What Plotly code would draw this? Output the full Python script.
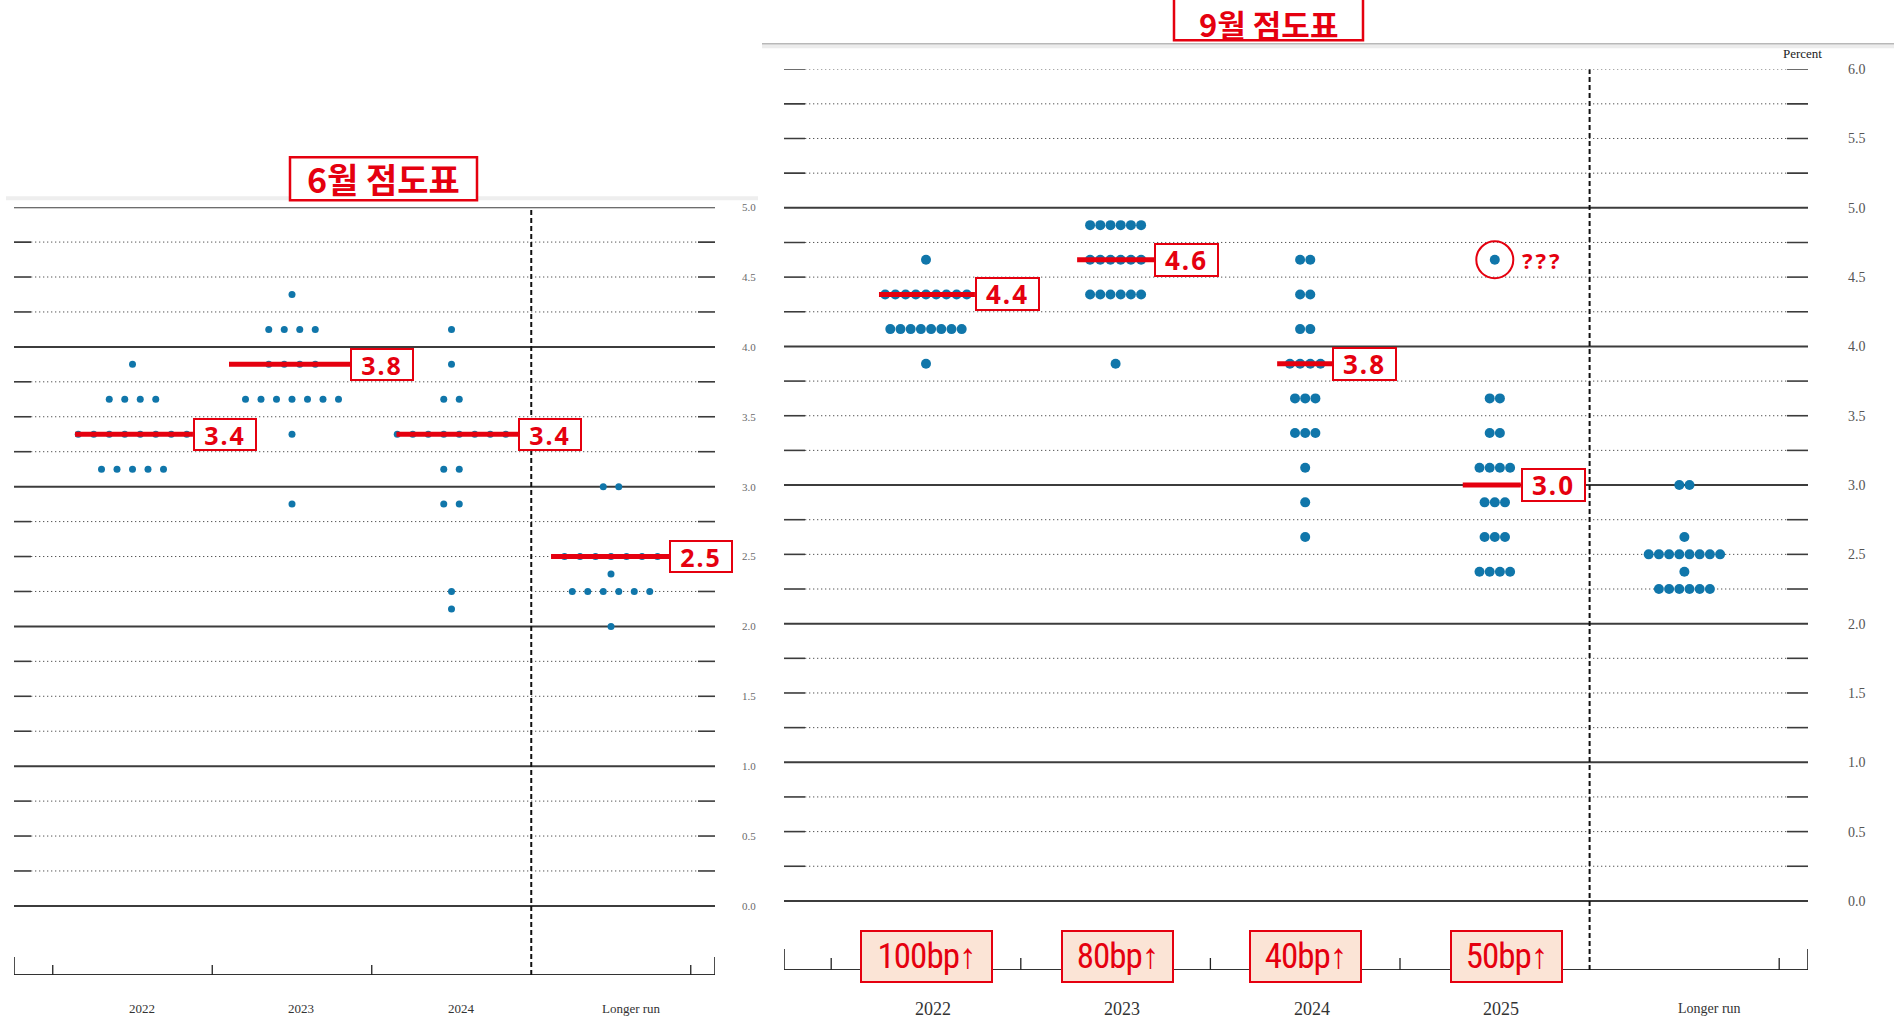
import plotly.graph_objects as go

W, H = 1894, 1026

# ---------------- data ----------------
june_categories = ["2022", "2023", "2024", "Longer run"]
june_2022_levels = [3.875, 3.625, 3.375, 3.125]
june_2022_counts = [1, 4, 8, 5]
june_2023_levels = [4.375, 4.125, 3.875, 3.625, 3.375, 2.875]
june_2023_counts = [1, 4, 4, 7, 1, 1]
june_2024_levels = [4.125, 3.875, 3.625, 3.375, 3.125, 2.875, 2.25, 2.125]
june_2024_counts = [1, 1, 2, 8, 2, 2, 1, 1]
june_lr_levels = [3.0, 2.5, 2.375, 2.25, 2.0]
june_lr_counts = [2, 7, 1, 6, 1]
june_median_labels = ["3.4", "3.8", "3.4", "2.5"]
june_median_levels = [3.375, 3.875, 3.375, 2.5]
june_yticks = [0.0, 0.5, 1.0, 1.5, 2.0, 2.5, 3.0, 3.5, 4.0, 4.5, 5.0]

sept_categories = ["2022", "2023", "2024", "2025", "Longer run"]
sept_2022_levels = [4.625, 4.375, 4.125, 3.875]
sept_2022_counts = [1, 9, 8, 1]
sept_2023_levels = [4.875, 4.625, 4.375, 3.875]
sept_2023_counts = [6, 6, 6, 1]
sept_2024_levels = [4.625, 4.375, 4.125, 3.875, 3.625, 3.375, 3.125, 2.875, 2.625]
sept_2024_counts = [2, 2, 2, 4, 3, 3, 1, 1, 1]
sept_2025_levels = [4.625, 3.625, 3.375, 3.125, 2.875, 2.625, 2.375]
sept_2025_counts = [1, 2, 2, 4, 3, 3, 4]
sept_lr_levels = [3.0, 2.625, 2.5, 2.375, 2.25]
sept_lr_counts = [2, 1, 8, 1, 6]
sept_median_labels = ["4.4", "4.6", "3.8", "3.0"]
sept_median_levels = [4.375, 4.625, 3.875, 3.0]
sept_hike_labels = ["100bp↑", "80bp↑", "40bp↑", "50bp↑"]
sept_yticks = [0.0, 0.5, 1.0, 1.5, 2.0, 2.5, 3.0, 3.5, 4.0, 4.5, 5.0, 5.5, 6.0]
outlier_category = 3
outlier_level = 4.625

june_columns = [(june_2022_levels, june_2022_counts), (june_2023_levels, june_2023_counts),
                (june_2024_levels, june_2024_counts), (june_lr_levels, june_lr_counts)]
sept_columns = [(sept_2022_levels, sept_2022_counts), (sept_2023_levels, sept_2023_counts),
                (sept_2024_levels, sept_2024_counts), (sept_2025_levels, sept_2025_counts),
                (sept_lr_levels, sept_lr_counts)]

# ---------------- styling / geometry ----------------
DOT = "#1076aa"
RED = "#e5000f"
GRID_DARK = "#3c3c3c"
GRID_DOT = "#555555"
SERIF = "Liberation Serif, Times New Roman, serif"
KFONT = "Noto Sans CJK KR"


def PY(y):
    # vertical pixel placement compensation observed in rendering
    return (y - 6.8) / 0.9935


panels = {
    "june": dict(xa="x", ya="y", px_l=14, px_r=715, c0=132.5, step=159.5,
                 top_val=5.0, top_px=PY(207), zero_px=PY(906), bottom_px=PY(975),
                 dashed_at=2.5, dot_size=7, dot_gap_px=15.5,
                 seg_px=17, end_tick=18, mid_tick=10,
                 tick_pos_px=741, tick_font=11, tick_color="#6a6a6a",
                 cat_font=13, lr_font=13, cat_offsets=[0.06, 0.056, 0.063, 0.13], cat_y=PY(1009),
                 med_start=[-0.36, -0.395, -0.345, -0.376], med_end=[0.379, 0.365, 0.42, 0.364],
                 box_w=60, box_h=29, box_font=25),
    "sept": dict(xa="x2", ya="y2", px_l=784, px_r=1808, c0=926, step=189.6,
                 top_val=6.0, top_px=PY(69), zero_px=PY(901), bottom_px=PY(970),
                 dashed_at=3.5, dot_size=10, dot_gap_px=10.2,
                 seg_px=21, end_tick=21, mid_tick=12,
                 tick_pos_px=1847, tick_font=14, tick_color="#555555",
                 cat_font=18, lr_font=14, cat_offsets=[0.037, 0.034, 0.037, 0.032, 0.134], cat_y=PY(1009),
                 med_start=[-0.248, -0.203, -0.148, -0.169], med_end=[0.258, 0.203, 0.142, 0.137],
                 box_w=61, box_h=30, box_font=26),
}

fig = go.Figure()
shapes = []
annotations = []


def add_panel(p, categories, columns, med_labels, med_levels, yticks):
    ppu = (p["zero_px"] - p["top_px"]) / p["top_val"]
    ylo = -(p["bottom_px"] - p["zero_px"]) / ppu
    xlo = (p["px_l"] - p["c0"]) / p["step"]
    xhi = (p["px_r"] - p["c0"]) / p["step"]
    gap = p["dot_gap_px"] / p["step"]
    xa, ya = p["xa"], p["ya"]
    xr, yr = xa, ya
    seg = p["seg_px"] / p["step"]

    # horizontal grid lines: solid at whole percents, dotted otherwise
    n_q = int(round(p["top_val"] / 0.25))
    for k in range(n_q + 1):
        v = k * 0.25
        solid = abs(v - round(v)) < 1e-9 and (v < 5.5 or p["top_val"] == 5.0)
        if solid:
            shapes.append(dict(type="line", xref=xr, yref=yr, x0=xlo, x1=xhi, y0=v, y1=v,
                               line=dict(color=GRID_DARK, width=2), layer="below"))
        else:
            shapes.append(dict(type="line", xref=xr, yref=yr, x0=xlo + seg, x1=xhi - seg, y0=v, y1=v,
                               line=dict(color=GRID_DOT, width=1, dash="1.3px,2.7px"), layer="below"))
            for a, b in [(xlo, xlo + seg), (xhi - seg, xhi)]:
                shapes.append(dict(type="line", xref=xr, yref=yr, x0=a, x1=b, y0=v, y1=v,
                                   line=dict(color=GRID_DARK, width=1.6), layer="below"))

    # bottom axis with ticks
    shapes.append(dict(type="line", xref=xr, yref=yr, x0=xlo, x1=xhi, y0=ylo, y1=ylo,
                       line=dict(color="#333333", width=2)))
    for xv in (xlo, xhi):
        shapes.append(dict(type="line", xref=xr, yref=yr, x0=xv, x1=xv, y0=ylo, y1=ylo + p["end_tick"] / ppu,
                           line=dict(color="#222222", width=1.6)))
    b = -0.5
    while b < len(categories):
        if abs(b - p["dashed_at"]) > 1e-9:
            shapes.append(dict(type="line", xref=xr, yref=yr, x0=b, x1=b, y0=ylo, y1=ylo + p["mid_tick"] / ppu,
                               line=dict(color="#222222", width=1.3)))
        b += 1
    # dashed separator before "Longer run"
    shapes.append(dict(type="line", xref=xr, yref=yr, x0=p["dashed_at"], x1=p["dashed_at"],
                       y0=ylo, y1=p["top_val"], line=dict(color="#111111", width=2, dash="5px,3px")))

    # participants' dots
    xs, ys = [], []
    for i, (levels, counts) in enumerate(columns):
        for lv, n in zip(levels, counts):
            for j in range(n):
                xs.append(i + (j - (n - 1) / 2) * gap)
                ys.append(lv)
    fig.add_trace(go.Scatter(x=xs, y=ys, mode="markers", xaxis=xa, yaxis=ya,
                             marker=dict(size=p["dot_size"], color=DOT, line=dict(width=0)),
                             hoverinfo="y", cliponaxis=False))

    # median lines + boxed labels
    for i, (lab, lv) in enumerate(zip(med_labels, med_levels)):
        fig.add_trace(go.Scatter(x=[i + p["med_start"][i], i + p["med_end"][i]], y=[lv, lv],
                                 mode="lines", xaxis=xa, yaxis=ya,
                                 line=dict(color=RED, width=5), hoverinfo="skip", cliponaxis=False))
        annotations.append(dict(xref=xa, yref=ya, x=i + p["med_end"][i], y=lv, xanchor="left",
                                yanchor="middle",
                                text='<span style="letter-spacing:2px"><b>' + lab + "</b></span>",
                                showarrow=False,
                                font=dict(family="Noto Sans, " + KFONT, size=p["box_font"], color=RED),
                                bgcolor="white", bordercolor=RED, borderwidth=2, borderpad=0,
                                width=p["box_w"], height=p["box_h"]))

    # category labels
    for i, c in enumerate(categories):
        annotations.append(dict(xref=xa, yref="paper", x=i + p["cat_offsets"][i], y=1 - p["cat_y"] / H,
                                text=c, showarrow=False, xanchor="center", yanchor="middle",
                                font=dict(family=SERIF, size=p["cat_font"] if c != "Longer run" else p["lr_font"],
                                          color="#333333")))

    xaxis = dict(domain=[p["px_l"] / W, p["px_r"] / W], range=[xlo, xhi], visible=False,
                 anchor=ya, fixedrange=True)
    yaxis = dict(domain=[1 - p["bottom_px"] / H, 1 - p["top_px"] / H], range=[ylo, p["top_val"]],
                 side="right", anchor="free", position=p["tick_pos_px"] / W,
                 tickvals=yticks, ticktext=["%.1f" % t for t in yticks],
                 tickfont=dict(family=SERIF, size=p["tick_font"], color=p["tick_color"]),
                 showgrid=False, zeroline=False, showline=False, ticks="", fixedrange=True)
    return xaxis, yaxis


jx, jy = add_panel(panels["june"], june_categories, june_columns, june_median_labels,
                   june_median_levels, june_yticks)
sx, sy = add_panel(panels["sept"], sept_categories, sept_columns, sept_median_labels,
                   sept_median_levels, sept_yticks)

# circled outlier dot and "???"
fig.add_trace(go.Scatter(x=[outlier_category], y=[outlier_level], mode="markers", xaxis="x2", yaxis="y2",
                         marker=dict(symbol="circle-open", size=37, color=RED, line=dict(width=2, color=RED)),
                         hoverinfo="skip", cliponaxis=False))
annotations.append(dict(xref="x2", yref="y2", x=outlier_category + 0.135, y=outlier_level, xanchor="left",
                        yanchor="middle", text='<span style="letter-spacing:3px"><b>???</b></span>',
                        showarrow=False, font=dict(family="Noto Sans", size=22, color=RED)))

# rate hike boxes
hike_offsets = [0.0, 0.01, 0.0, 0.06]
for i, lab in enumerate(sept_hike_labels):
    annotations.append(dict(xref="x2", yref="paper", x=i + hike_offsets[i], y=1 - PY(956.5) / H,
                            xanchor="center", yanchor="middle",
                            text='<span style="letter-spacing:-1px">' + lab + "</span>", showarrow=False,
                            font=dict(family="Liberation Sans Narrow, Roboto Condensed, Roboto", size=35,
                                      color=RED),
                            bgcolor="#fbe4d6", bordercolor=RED, borderwidth=2, borderpad=0,
                            width=129 if len(lab) > 5 else 109, height=49))

# "Percent"
annotations.append(dict(xref="paper", yref="paper", x=1802 / W, y=1 - PY(53) / H, text="Percent",
                        showarrow=False, xanchor="center", yanchor="middle",
                        font=dict(family=SERIF, size=13, color="#222222")))

# screenshot edges
shapes.append(dict(type="line", xref="paper", yref="paper", x0=6 / W, x1=758 / W,
                   y0=1 - PY(198) / H, y1=1 - PY(198) / H,
                   line=dict(color="#eeeeee", width=4), layer="below"))
shapes.append(dict(type="line", xref="paper", yref="paper", x0=762 / W, x1=1,
                   y0=1 - PY(46) / H, y1=1 - PY(46) / H,
                   line=dict(color="#ececec", width=4), layer="below"))
shapes.append(dict(type="line", xref="paper", yref="paper", x0=762 / W, x1=1,
                   y0=1 - PY(43.5) / H, y1=1 - PY(43.5) / H,
                   line=dict(color="#b8b8b8", width=1.5), layer="below"))

# panel titles (box, text centre y)
titles = [("6월 점도표", 290, 477, 157, 200, 178.5, 34), ("9월 점도표", 1174, 1363, -12, 40, 23, 31)]
for txt, x0, x1, y0, y1, cy, fs in titles:
    shapes.append(dict(type="rect", xref="paper", yref="paper", x0=x0 / W, x1=x1 / W,
                       y0=1 - PY(y1) / H, y1=1 - PY(y0) / H,
                       line=dict(color=RED, width=2.5), fillcolor="white"))
    annotations.append(dict(xref="paper", yref="paper", x=(x0 + x1) / 2 / W, y=1 - PY(cy) / H,
                            text="<b>" + txt + "</b>", showarrow=False,
                            xanchor="center", yanchor="middle", borderpad=0,
                            font=dict(family=KFONT, size=fs, color=RED)))

fig.update_layout(
    width=W, height=H, autosize=False,
    margin=dict(l=0, r=0, t=0, b=0, pad=0),
    paper_bgcolor="white", plot_bgcolor="white",
    showlegend=False,
    xaxis=jx, yaxis=jy, xaxis2=sx, yaxis2=sy,
    shapes=shapes, annotations=annotations,
)

fig.write_html("out.html")
